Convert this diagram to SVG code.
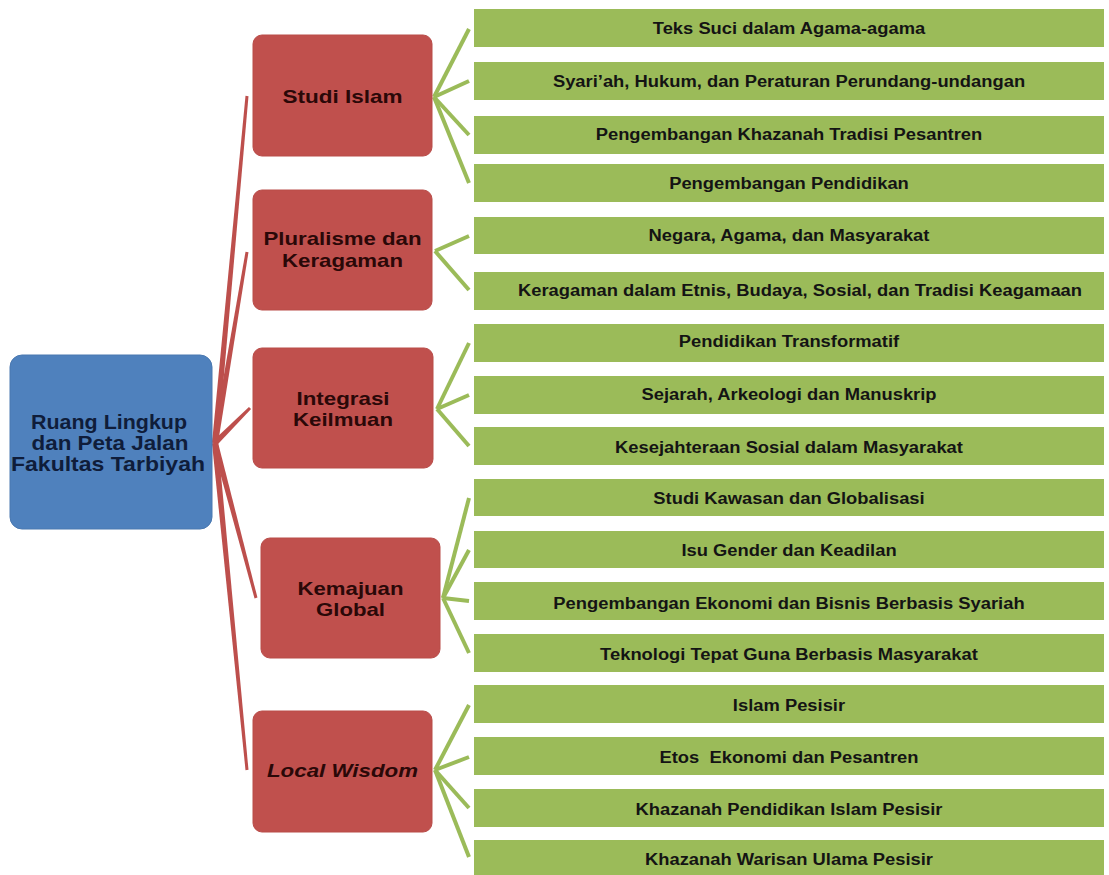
<svg xmlns="http://www.w3.org/2000/svg" width="1109" height="875" viewBox="0 0 1109 875">
<style>
.bg{fill:#ffffff}
.blue{fill:#4f81bd;stroke:#4a78b0;stroke-width:1}
.red{fill:#c0504d;stroke:#b94c49;stroke-width:1}
.green{fill:#9bbb59}
.rc{fill:#bd4f4c}
.gc{stroke:#9bbb59;stroke-width:4;stroke-linecap:butt;fill:none}
.bt{font-family:"Liberation Sans",Arial,sans-serif;font-weight:bold;font-size:21px;fill:#0f1d3a;text-anchor:middle}
.rt{font-family:"Liberation Sans",Arial,sans-serif;font-weight:bold;font-size:19px;fill:#2a0808;text-anchor:middle}
.gt{font-family:"Liberation Sans",Arial,sans-serif;font-weight:bold;font-size:17px;fill:#141414;text-anchor:middle}
</style>
<rect class="bg" x="0" y="0" width="1109" height="875"/>
<g id="connectors">
<polygon class="rc" points="217.99,443.28 212.01,442.72 245.51,95.86 248.49,96.14"/>
<polygon class="rc" points="217.96,443.5 212.04,442.5 245.52,251.75 248.48,252.25"/>
<polygon class="rc" points="217.12,445.12 212.88,440.88 248.94,406.94 251.06,409.06"/>
<polygon class="rc" points="217.9,442.23 212.1,443.77 254.55,598.38 257.45,597.62"/>
<polygon class="rc" points="217.99,442.71 212.01,443.29 245.51,770.15 248.49,769.85"/>
<line class="gc" x1="434" y1="97" x2="469" y2="29"/>
<line class="gc" x1="434" y1="97" x2="469" y2="81"/>
<line class="gc" x1="434" y1="97" x2="469" y2="135"/>
<line class="gc" x1="434" y1="97" x2="469" y2="183"/>
<line class="gc" x1="435" y1="251" x2="469" y2="236"/>
<line class="gc" x1="435" y1="251" x2="469" y2="290"/>
<line class="gc" x1="437" y1="409" x2="469" y2="343"/>
<line class="gc" x1="437" y1="409" x2="469" y2="395"/>
<line class="gc" x1="437" y1="409" x2="469" y2="446"/>
<line class="gc" x1="443" y1="598" x2="469" y2="498"/>
<line class="gc" x1="443" y1="598" x2="469" y2="550"/>
<line class="gc" x1="443" y1="598" x2="469" y2="601"/>
<line class="gc" x1="443" y1="598" x2="469" y2="653"/>
<line class="gc" x1="435" y1="770" x2="469" y2="705"/>
<line class="gc" x1="435" y1="770" x2="469" y2="757"/>
<line class="gc" x1="435" y1="770" x2="469" y2="808"/>
<line class="gc" x1="435" y1="770" x2="469" y2="857"/>
</g>
<g id="root">
<rect class="blue" x="10" y="355" width="202" height="174" rx="12"/>
<text class="bt" x="109" y="428.5" textLength="156" lengthAdjust="spacingAndGlyphs">Ruang Lingkup</text>
<text class="bt" x="110" y="449.5" textLength="157" lengthAdjust="spacingAndGlyphs">dan Peta Jalan</text>
<text class="bt" x="108" y="470.5" textLength="194" lengthAdjust="spacingAndGlyphs">Fakultas Tarbiyah</text>
</g>
<g id="studi-islam">
<rect class="red" x="253" y="35" width="179" height="121" rx="9"/>
<text class="rt" x="342.5" y="103" textLength="120" lengthAdjust="spacingAndGlyphs">Studi Islam</text>
</g>
<g id="pluralisme">
<rect class="red" x="253" y="190" width="179" height="120" rx="9"/>
<text class="rt" x="342.5" y="245" textLength="158" lengthAdjust="spacingAndGlyphs">Pluralisme dan</text>
<text class="rt" x="342.5" y="267" textLength="121" lengthAdjust="spacingAndGlyphs">Keragaman</text>
</g>
<g id="integrasi">
<rect class="red" x="253" y="348" width="180" height="120" rx="9"/>
<text class="rt" x="343" y="405" textLength="93" lengthAdjust="spacingAndGlyphs">Integrasi</text>
<text class="rt" x="343" y="426" textLength="100" lengthAdjust="spacingAndGlyphs">Keilmuan</text>
</g>
<g id="kemajuan">
<rect class="red" x="261" y="538" width="179" height="120" rx="9"/>
<text class="rt" x="350.5" y="595" textLength="106" lengthAdjust="spacingAndGlyphs">Kemajuan</text>
<text class="rt" x="350.5" y="616" textLength="69" lengthAdjust="spacingAndGlyphs">Global</text>
</g>
<g id="local-wisdom">
<rect class="red" x="253" y="711" width="179" height="121" rx="9"/>
<text class="rt" x="342.5" y="777" font-style="italic" textLength="151" lengthAdjust="spacingAndGlyphs">Local Wisdom</text>
</g>
<g id="g1"><rect class="green" x="474" y="9" width="630" height="38"/><text class="gt" x="789" y="34.5" transform="matrix(1.08 0 0 1 -63.12 0)">Teks Suci dalam Agama-agama</text></g>
<g id="g2"><rect class="green" x="474" y="62" width="630" height="38"/><text class="gt" x="789" y="87.5" transform="matrix(1.08 0 0 1 -63.12 0)">Syari’ah, Hukum, dan Peraturan Perundang-undangan</text></g>
<g id="g3"><rect class="green" x="474" y="116" width="630" height="38"/><text class="gt" x="789" y="140.5" transform="matrix(1.08 0 0 1 -63.12 0)">Pengembangan Khazanah Tradisi Pesantren</text></g>
<g id="g4"><rect class="green" x="474" y="164" width="630" height="38"/><text class="gt" x="789" y="189.5" transform="matrix(1.08 0 0 1 -63.12 0)">Pengembangan Pendidikan</text></g>
<g id="g5"><rect class="green" x="474" y="217" width="630" height="37"/><text class="gt" x="789" y="241.5" transform="matrix(1.08 0 0 1 -63.12 0)">Negara, Agama, dan Masyarakat</text></g>
<g id="g6"><rect class="green" x="474" y="272" width="630" height="38"/><text class="gt" x="800" y="296.5" transform="matrix(1.08 0 0 1 -64 0)">Keragaman dalam Etnis, Budaya, Sosial, dan Tradisi Keagamaan</text></g>
<g id="g7"><rect class="green" x="474" y="324" width="630" height="38"/><text class="gt" x="789" y="347.5" transform="matrix(1.08 0 0 1 -63.12 0)">Pendidikan Transformatif</text></g>
<g id="g8"><rect class="green" x="474" y="376" width="630" height="38"/><text class="gt" x="789" y="400.5" transform="matrix(1.08 0 0 1 -63.12 0)">Sejarah, Arkeologi dan Manuskrip</text></g>
<g id="g9"><rect class="green" x="474" y="427" width="630" height="38"/><text class="gt" x="789" y="453" transform="matrix(1.08 0 0 1 -63.12 0)">Kesejahteraan Sosial dalam Masyarakat</text></g>
<g id="g10"><rect class="green" x="474" y="479" width="630" height="37"/><text class="gt" x="789" y="504" transform="matrix(1.08 0 0 1 -63.12 0)">Studi Kawasan dan Globalisasi</text></g>
<g id="g11"><rect class="green" x="474" y="531" width="630" height="37"/><text class="gt" x="789" y="556" transform="matrix(1.08 0 0 1 -63.12 0)">Isu Gender dan Keadilan</text></g>
<g id="g12"><rect class="green" x="474" y="582" width="630" height="38"/><text class="gt" x="789" y="609" transform="matrix(1.08 0 0 1 -63.12 0)">Pengembangan Ekonomi dan Bisnis Berbasis Syariah</text></g>
<g id="g13"><rect class="green" x="474" y="634" width="630" height="38"/><text class="gt" x="789" y="660" transform="matrix(1.08 0 0 1 -63.12 0)">Teknologi Tepat Guna Berbasis Masyarakat</text></g>
<g id="g14"><rect class="green" x="474" y="685" width="630" height="38"/><text class="gt" x="789" y="711" transform="matrix(1.08 0 0 1 -63.12 0)">Islam Pesisir</text></g>
<g id="g15"><rect class="green" x="474" y="737" width="630" height="38"/><text class="gt" x="789" y="763" transform="matrix(1.08 0 0 1 -63.12 0)" xml:space="preserve">Etos  Ekonomi dan Pesantren</text></g>
<g id="g16"><rect class="green" x="474" y="789" width="630" height="38"/><text class="gt" x="789" y="815" transform="matrix(1.08 0 0 1 -63.12 0)">Khazanah Pendidikan Islam Pesisir</text></g>
<g id="g17"><rect class="green" x="474" y="840" width="630" height="38"/><text class="gt" x="789" y="865" transform="matrix(1.08 0 0 1 -63.12 0)">Khazanah Warisan Ulama Pesisir</text></g>
</svg>
